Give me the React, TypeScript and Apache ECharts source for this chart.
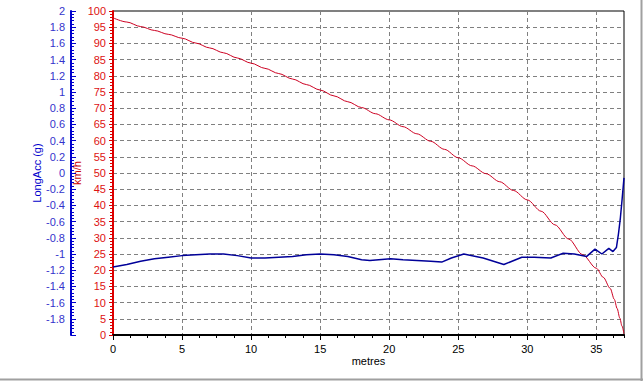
import React, { useEffect, useRef } from "react";
import * as echarts from "echarts";

// Speed (km/h) vs distance (metres)
const speedDist = [0, 1, 2, 3, 4, 5, 6, 7, 8, 9, 10, 11, 12, 13, 14, 15, 16, 17, 18, 19, 20, 21, 22, 23, 24, 25, 26, 27, 28, 29, 30, 31, 32, 33, 34, 35, 35.5, 36, 36.3, 36.5, 36.7, 36.85, 37];
const speedKmh = [97.9, 96.6, 95.2, 94.0, 92.8, 91.6, 90.1, 88.6, 87.1, 85.5, 83.9, 82.3, 80.7, 79.0, 77.3, 75.6, 73.8, 72.0, 70.2, 68.3, 66.4, 64.3, 62.1, 59.8, 57.3, 54.7, 52.2, 49.8, 47.3, 44.6, 41.7, 38.2, 34.0, 29.6, 24.8, 20.6, 17.8, 14.4, 11.0, 8.2, 5.2, 2.8, 0.4];

// Longitudinal acceleration (g) vs distance (metres)
const accDist = [0, 1, 2, 3, 4, 5, 6, 7, 8, 9, 10, 11, 12, 13, 14, 15, 16, 17, 18, 18.6, 20.1, 21, 22, 23, 23.8, 24.5, 25.4, 26.8, 28.3, 29.6, 30.5, 31.7, 32.6, 33.4, 34.3, 34.9, 35.4, 35.9, 36.2, 36.45, 36.6, 36.74, 36.86, 37];
const accG = [-1.16, -1.13, -1.09, -1.06, -1.04, -1.02, -1.01, -1.0, -1.0, -1.02, -1.05, -1.05, -1.04, -1.03, -1.01, -1.0, -1.01, -1.03, -1.07, -1.08, -1.06, -1.07, -1.08, -1.09, -1.1, -1.05, -1.0, -1.05, -1.13, -1.04, -1.04, -1.05, -0.99, -1.0, -1.03, -0.94, -1.0, -0.93, -0.97, -0.92, -0.75, -0.55, -0.33, -0.06];

const xMin = 0;
const xMax = 37;
const xInterval = 5;
const accMin = -2;
const accMax = 2;
const accInterval = 0.2;
const speedMin = 0;
const speedMax = 100;
const speedInterval = 5;

const xName = "metres";
const accName = "LongAcc (g)";
const speedName = "km/h";

const FONT = "'Liberation Sans', Arial, sans-serif";

export default function App() {
  const ref = useRef<HTMLDivElement>(null);

  useEffect(() => {
    if (!ref.current) return;
    const chart = echarts.init(ref.current, undefined, { renderer: "svg" });
    const speedData = speedDist.map((d, i) => [d, speedKmh[i]]);
    const accData = accDist.map((d, i) => [d, accG[i]]);

    chart.setOption({
      animation: false,
      backgroundColor: "#ffffff",
      textStyle: { fontFamily: FONT },
      grid: {
        left: 113,
        top: 11,
        right: 19,
        bottom: 46,
        show: true,
        borderColor: "#000000",
        borderWidth: 1,
        backgroundColor: "transparent",
      },
      xAxis: [
        {
          type: "value",
          min: xMin,
          max: xMax,
          interval: xInterval,
          position: "bottom",
          name: xName,
          nameLocation: "middle",
          nameGap: 20,
          nameMoveOverlap: false,
          nameTextStyle: { color: "#000000", fontSize: 11, fontFamily: FONT },
          axisLine: { show: true, onZero: false, lineStyle: { color: "#000000", width: 2 } },
          axisTick: { show: true, length: 5, lineStyle: { color: "#000000" } },
          axisLabel: { color: "#000000", fontSize: 11, margin: 8, showMaxLabel: false, fontFamily: FONT },
          splitLine: { show: true, lineStyle: { color: "#808080", type: [4, 3], width: 1 } },
        },
        {
          type: "value",
          min: xMin,
          max: xMax,
          interval: 1.25,
          position: "bottom",
          axisLine: { show: false, onZero: false },
          axisTick: { show: true, length: 3, lineStyle: { color: "#000000" } },
          axisLabel: { show: false },
          splitLine: { show: false },
        },
      ],
      yAxis: [
        {
          type: "value",
          position: "left",
          offset: 42,
          min: accMin,
          max: accMax,
          interval: accInterval,
          name: accName,
          nameLocation: "middle",
          nameRotate: 90,
          nameGap: 29,
          nameMoveOverlap: false,
          nameTextStyle: { color: "#0000cc", fontSize: 11, fontFamily: FONT },
          axisLine: { show: true, onZero: false, lineStyle: { color: "#0000cc", width: 2 } },
          axisTick: { show: true, inside: true, length: 5, lineStyle: { color: "#0000cc" } },
          minorTick: { show: true, splitNumber: 5, length: 3, lineStyle: { color: "#0000cc" } },
          axisLabel: {
            color: "#3333cc",
            fontSize: 11,
            margin: 6,
            showMinLabel: false,
            fontFamily: FONT,
            formatter: (v: number) => String(Math.round(v * 10) / 10),
          },
          splitLine: { show: false },
        },
        {
          type: "value",
          position: "left",
          offset: 0,
          min: speedMin,
          max: speedMax,
          interval: speedInterval,
          name: speedName,
          nameLocation: "middle",
          nameRotate: 90,
          nameGap: 31,
          nameMoveOverlap: false,
          nameTextStyle: { color: "#cc0000", fontSize: 11, fontFamily: FONT },
          axisLine: { show: true, onZero: false, lineStyle: { color: "#dd0000", width: 2 } },
          axisTick: { show: true, length: 4, lineStyle: { color: "#dd0000" } },
          minorTick: { show: true, splitNumber: 5, length: 3, lineStyle: { color: "#dd0000" } },
          axisLabel: { color: "#dd1111", fontSize: 11, margin: 7, fontFamily: FONT },
          splitLine: { show: true, lineStyle: { color: "#808080", type: [4, 3], width: 1 } },
        },
      ],
      series: [
        {
          type: "line",
          name: speedName,
          xAxisIndex: 0,
          yAxisIndex: 1,
          data: speedData,
          showSymbol: false,
          symbol: "none",
          smooth: 0.3,
          smoothMonotone: "x",
          lineStyle: { color: "#cc0022", width: 1 },
          z: 3,
        },
        {
          type: "line",
          name: accName,
          xAxisIndex: 0,
          yAxisIndex: 0,
          data: accData,
          showSymbol: false,
          symbol: "none",
          lineStyle: { color: "#000099", width: 1.5 },
          z: 4,
        },
      ],
      graphic: [
        { type: "line", shape: { x1: 641.5, y1: 0, x2: 641.5, y2: 381 }, style: { stroke: "#a0a0a0", lineWidth: 2 } },
        { type: "line", shape: { x1: 0, y1: 379.5, x2: 643, y2: 379.5 }, style: { stroke: "#a0a0a0", lineWidth: 2 } },
      ],
    });
    return () => chart.dispose();
  }, []);

  return (
    <div
      ref={ref}
      style={{ position: "absolute", left: 0, top: 0, width: 643, height: 381, background: "#ffffff" }}
    />
  );
}
